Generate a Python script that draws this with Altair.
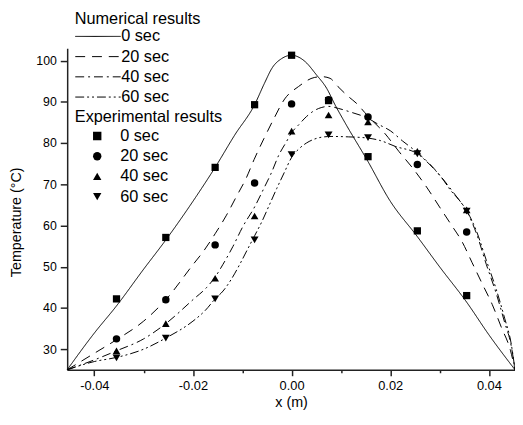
import altair as alt
import pandas as pd

# ---- Data ----
series_labels = ["0 sec", "20 sec", "40 sec", "60 sec"]
# the marker legend uses its own domain values (trailing space) so Vega-Lite keeps two legends
exp_labels = [s + " " for s in series_labels]

# Numerical results (curves)
num_x_0 = [-0.0455, -0.04, -0.0355, -0.03, -0.0255, -0.0192, -0.0155, -0.0115, -0.0075, -0.0055,
           -0.0039, -0.002, 0.0, 0.0015, 0.0028, 0.005, 0.0071, 0.0088, 0.0108, 0.0155, 0.0199,
           0.0255, 0.03, 0.0355, 0.04, 0.0453]
num_t_0 = [25, 33.9, 40.5, 49.4, 56.5, 67.3, 74.1, 82.0, 89.3, 94.5,
           98.3, 100.5, 101.3, 100.8, 99.7, 96.6, 93.3, 89.3, 85.0, 75.5, 66.1,
           57.3, 50.0, 41.4, 33.5, 25]

num_x_20 = [-0.0455, -0.04, -0.0355, -0.03, -0.0255, -0.02, -0.0179, -0.0155, -0.0132, -0.0112,
            -0.0092, -0.0076, -0.0056, -0.0036, -0.0014, 0.0014, 0.0046, 0.0062, 0.0078, 0.0094,
            0.0115, 0.0131, 0.0155, 0.019, 0.0218, 0.0247, 0.0275, 0.03, 0.0323, 0.0346,
            0.0366, 0.0386, 0.0407, 0.0425, 0.0444, 0.0453]
num_t_20 = [25, 29.0, 32.3, 36.8, 42.0, 50.5, 53.7, 58.0, 62.5, 67.0,
            71.5, 76.0, 81.1, 85.9, 90.7, 93.7, 95.9, 96.1, 95.7, 93.7,
            91.3, 89.7, 86.5, 82.2, 77.9, 73.7, 69.1, 64.5, 60.3, 56.0,
            51.0, 46.0, 40.8, 35.4, 29.6, 25]

num_x_40 = [-0.0455, -0.04, -0.0355, -0.03, -0.0255, -0.02, -0.0172, -0.0155, -0.0139, -0.0119,
            -0.0099, -0.0075, -0.0055, -0.0042, -0.0025, -0.0012, 0.0, 0.0015, 0.003, 0.0045,
            0.006, 0.0075, 0.0095, 0.012, 0.0155, 0.0175, 0.02, 0.0225, 0.0255, 0.0285,
            0.031, 0.0335, 0.0355, 0.0375, 0.0395, 0.0415, 0.0432, 0.0445, 0.0453]
num_t_40 = [25, 27.4, 29.6, 32.5, 36.2, 42.0, 45.0, 47.5, 50.6, 54.9,
            59.7, 64.5, 69.3, 72.5, 77.3, 80.0, 82.5, 84.5, 86.4, 87.8,
            88.6, 88.9, 88.4, 87.5, 86.0, 84.6, 83.0, 80.5, 77.7, 74.3,
            70.8, 66.9, 63.5, 58.0, 50.5, 43.5, 36.5, 31.0, 25]

num_x_60 = [-0.0455, -0.04, -0.0355, -0.03, -0.0255, -0.02, -0.0175, -0.0155, -0.0139, -0.0122,
            -0.0105, -0.0089, -0.0075, -0.006, -0.0045, -0.003, -0.0015, 0.0, 0.0015, 0.003,
            0.0045, 0.006, 0.008, 0.0115, 0.0155, 0.018, 0.021, 0.0255, 0.028, 0.0308,
            0.0322, 0.0339, 0.0355, 0.0375, 0.0395, 0.0415, 0.0432, 0.0445, 0.0453]
num_t_60 = [25, 27.0, 28.0, 30.0, 32.7, 36.8, 39.4, 42.2, 44.1, 47.0,
            50.6, 54.3, 57.5, 61.0, 65.0, 69.0, 72.8, 76.5, 78.6, 80.0,
            80.9, 81.4, 81.6, 81.5, 81.2, 80.6, 79.2, 77.4, 74.8, 71.0,
            68.6, 66.3, 63.6, 58.6, 51.5, 44.5, 37.5, 31.5, 25]

# Experimental results (markers)
exp_x = [-0.0355, -0.0255, -0.0155, -0.0075, 0.0, 0.0075, 0.0155, 0.0255, 0.0355]
exp_t_0 = [42.2, 57.1, 74.1, 89.3, 101.3, 90.3, 76.7, 58.7, 43.0]
exp_t_20 = [32.5, 42.0, 55.3, 70.3, 89.5, 90.5, 86.3, 74.8, 58.4]
exp_t_40 = [29.6, 36.2, 47.2, 62.3, 82.9, 86.8, 85.1, 78.0, 63.8]
exp_t_60 = [27.9, 32.7, 42.2, 56.5, 77.2, 82.0, 81.3, 77.4, 63.5]

x_ticks = [-0.04, -0.03, -0.02, -0.01, 0.0, 0.01, 0.02, 0.03, 0.04]
y_ticks = [30, 35, 40, 45, 50, 55, 60, 65, 70, 75, 80, 85, 90, 95, 100]

# ---- Build tables ----
num_sets = [(num_x_0, num_t_0), (num_x_20, num_t_20), (num_x_40, num_t_40), (num_x_60, num_t_60)]
line_df = pd.concat([
    pd.DataFrame({"x": xs, "T": ts, "Numerical": lab})
    for (xs, ts), lab in zip(num_sets, series_labels)
], ignore_index=True)

exp_sets = [exp_t_0, exp_t_20, exp_t_40, exp_t_60]
pt_df = pd.concat([
    pd.DataFrame({"x": exp_x, "T": ts, "Experimental": lab})
    for ts, lab in zip(exp_sets, exp_labels)
], ignore_index=True)

FONT = "Liberation Sans"

x_scale = alt.Scale(domain=[-0.0455, 0.0453], nice=False, zero=False)
y_scale = alt.Scale(domain=[25, 103], nice=False, zero=False)

x_axis = alt.Axis(
    values=x_ticks,
    labelExpr="round(datum.value*100) % 2 == 0 ? replace(format(datum.value, '.2f'), '\u2212', '-') : ''",
    tickSize={"condition": {"test": "round(datum.value*100) % 2 == 0", "value": 6}, "value": 3},
    title="x (m)", grid=False, labelFlush=False, labelOverlap=False,
    titleY=33, titleBaseline="middle", labelPadding=4, labelFontSize=13,
)
y_axis = alt.Axis(
    values=y_ticks,
    labelExpr="datum.value % 10 == 0 ? datum.label : ''",
    tickSize={"condition": {"test": "datum.value % 10 == 0", "value": 7}, "value": 4},
    title="Temperature (\u00b0C)", grid=False, labelOverlap=False,
    titleX=-51, titleY=176, titleBaseline="middle", labelFontSize=12.5,
)

lines = alt.Chart(line_df).mark_line(color="black", strokeWidth=1, interpolate="monotone").encode(
    x=alt.X("x:Q", scale=x_scale, axis=x_axis),
    y=alt.Y("T:Q", scale=y_scale, axis=y_axis),
    strokeDash=alt.StrokeDash(
        "Numerical:N",
        scale=alt.Scale(domain=series_labels,
                        range=[[1, 0], [10, 7], [9, 4, 2, 4], [9, 3, 2, 3, 2, 3]]),
        legend=alt.Legend(
            orient="none", legendX=7.7, legendY=-38, title="Numerical results",
            symbolType="stroke", symbolSize=2116, clipHeight=15,
            symbolStrokeColor="black", symbolStrokeWidth=1,
            labelOffset=0, rowPadding=3.5, titlePadding=2, padding=0,
        ),
    ),
)

points = alt.Chart(pt_df).mark_point(filled=True, color="black", opacity=1).encode(
    x=alt.X("x:Q", scale=x_scale),
    y=alt.Y("T:Q", scale=y_scale),
    shape=alt.Shape(
        "Experimental:N",
        scale=alt.Scale(domain=exp_labels,
                        range=["square", "circle", "triangle-up", "triangle-down"]),
        legend=alt.Legend(
            orient="none", legendX=7.7, legendY=61.5, title="Experimental results",
            symbolSize=72, clipHeight=15, symbolFillColor="black", symbolStrokeColor="black",
            symbolOffset=14.5, labelOffset=15, rowPadding=3.5, titlePadding=3.5, padding=0,
        ),
    ),
    size=alt.Size(
        "Experimental:N",
        scale=alt.Scale(domain=exp_labels, range=[54, 64, 81, 81]),
        legend=None,
    ),
)

chart = alt.layer(lines, points).resolve_legend(
    strokeDash="independent", shape="independent"
).properties(
    width=454, height=326,
    padding={"left": 60, "top": 38, "right": 0, "bottom": 40},
    autosize=alt.AutoSizeParams(type="none"),
).configure_view(stroke=None).configure_axis(
    domainColor="#222", domainWidth=1.5, tickColor="#222", tickWidth=1.5,
    labelFont=FONT, labelColor="black", labelPadding=4,
    titleFont=FONT, titleFontSize=14.5, titleFontWeight="normal", titleColor="black",
).configure_legend(
    titleFont=FONT, titleFontSize=16.5, titleFontWeight="normal", titleColor="black",
    labelFont=FONT, labelFontSize=16.5, labelColor="black",
)

chart.save("out.html", embed_options={"renderer": "svg", "actions": False})
